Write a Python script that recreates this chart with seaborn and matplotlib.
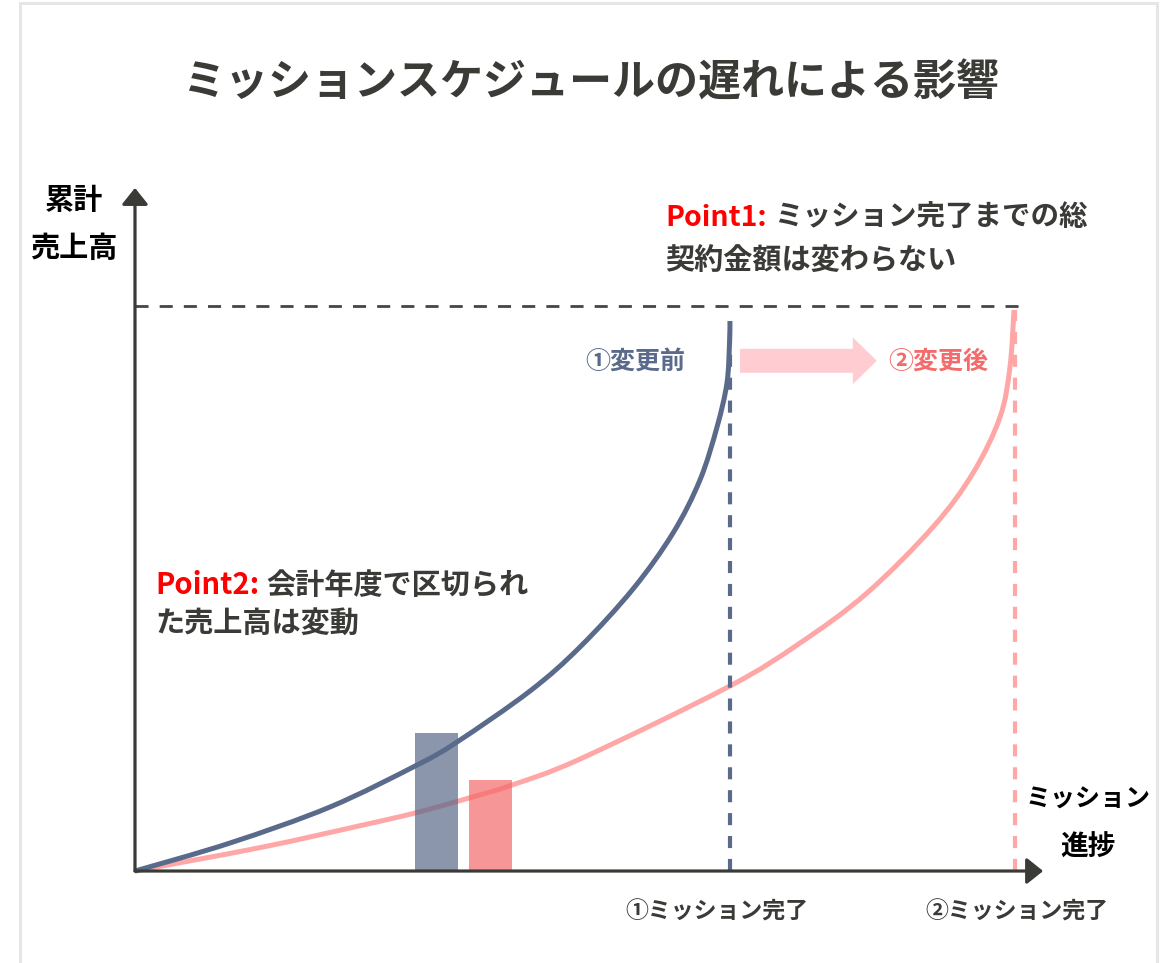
import numpy as np
import pandas as pd
import matplotlib
matplotlib.use("Agg")
import matplotlib.pyplot as plt
import seaborn as sns
from matplotlib.patches import FancyArrow, Rectangle, PathPatch
from matplotlib.path import Path

# ---------------- data ----------------
title = "ミッションスケジュールの遅れによる影響"
y_label = ["累計", "売上高"]
x_label = ["ミッション", "進捗"]

# cumulative sales (% of total contract) vs mission progress (%)
blue_progress = [0, 10.80, 22.16, 32.05, 36.59, 44.89, 50.57, 56.59, 61.14, 64.20,
                 66.14, 67.27, 67.56, 67.61]
blue_sales = [0, 4.96, 11.33, 18.76, 22.83, 31.86, 39.65, 49.91, 59.82, 69.20,
              78.58, 86.37, 93.45, 97.35]
pink_progress = [0, 14.55, 25.91, 31.82, 37.95, 42.84, 50.57, 67.39, 75.57, 83.18,
                 90.68, 95.23, 98.30, 99.43, 99.89]
pink_sales = [0, 4.25, 8.14, 10.27, 12.92, 15.22, 19.82, 32.57, 40.35, 49.20,
              60.88, 70.44, 80.35, 89.20, 99.29]

total_contract = 100
bar_positions = [34.3, 40.4]          # fiscal-year slice of sales
bar_heights = [24.4, 16.1]
bar_names = ["変更前", "変更後"]

label_before = "①変更前"
label_after = "②変更後"
done_before = "①ミッション完了"
done_after = "②ミッション完了"
point1 = ["Point1:", "ミッション完了までの総", "契約金額は変わらない"]
point2 = ["Point2:", "会計年度で区切られ", "た売上高は変動"]

# ---------------- styling ----------------
sns.set_theme(style="white")
plt.rcParams["font.family"] = ["Noto Sans CJK JP", "DejaVu Sans"]

NAVY = "#5a6a8a"
PINK = "#ffa6a6"
PINK_DARK = "#f56a6a"
TXT = "#3a3a37"
AXC = "#3a3a36"

fig = plt.figure(figsize=(11.71, 9.63), dpi=100)
ax = fig.add_axes([0, 0, 1, 1])

# frame
fig.patches.append(Rectangle((20 / 1171, -0.02), (1157 - 20) / 1171, 1.02 - 3 / 963,
                             transform=fig.transFigure, fill=False,
                             edgecolor="#e6e6e6", linewidth=2.2, zorder=0))


def smooth_path(xs, ys):
    """Smooth (Catmull-Rom style) rendering path through the read points."""
    P = np.column_stack([xs, ys]).astype(float)
    n = len(P)
    verts = [P[0]]
    codes = [Path.MOVETO]
    for i in range(n - 1):
        p0 = P[i - 1] if i > 0 else P[i]
        p1, p2 = P[i], P[i + 1]
        p3 = P[i + 2] if i + 2 < n else P[i + 1]
        verts += [p1 + (p2 - p0) / 6, p2 - (p3 - p1) / 6, p2]
        codes += [Path.CURVE4] * 3
    return Path(verts, codes)


# bars (fiscal-year sales) via seaborn, on a native numeric scale
sns.barplot(x=bar_positions, y=bar_heights, hue=bar_names,
            palette=[NAVY, PINK_DARK], native_scale=True, width=4.9 / 6.1,
            dodge=False, saturation=1, alpha=0.7, legend=False, ax=ax,
            linewidth=0, zorder=5)

# cumulative sales curves
ax.add_patch(PathPatch(smooth_path(pink_progress, pink_sales), fill=False,
                       edgecolor=PINK, lw=3.6, zorder=3))
ax.add_patch(PathPatch(smooth_path(blue_progress, blue_sales), fill=False,
                       edgecolor=NAVY, lw=3.6, zorder=4))

# vertical dashed completion lines
ax.plot([blue_progress[-1]] * 2, [0, blue_sales[-1]], color=NAVY, lw=3,
        dashes=(2.9, 2.6), zorder=3)
ax.plot([pink_progress[-1] + 0.1] * 2, [0, pink_sales[-1]], color=PINK, lw=3,
        dashes=(2.9, 2.6), zorder=2)

# total contract dashed line
ax.plot([0, pink_progress[-1] + 0.6], [total_contract] * 2, color="#454545", lw=2,
        dashes=(4.7, 4.0), zorder=2)

# axes with arrows
arrow_kw = dict(arrowstyle="-|>,head_length=0.5,head_width=0.4", lw=2.3, color=AXC,
                shrinkA=0, shrinkB=0, mutation_scale=20)
ax.annotate("", xy=(103.2, 0), xytext=(0, 0), arrowprops=arrow_kw, zorder=6)
ax.annotate("", xy=(0, 120.9), xytext=(0, 0), arrowprops=arrow_kw, zorder=6)

# block arrow
ax.add_patch(FancyArrow(68.75, 90.3, 84.3 - 68.75, 0, width=4.25, head_width=8.3,
                        head_length=2.73, length_includes_head=True,
                        color="#ffccd1", lw=0, zorder=3))

ax.set_xlim(-15.34, 117.73)
ax.set_ylim(-16.28, 154.16)
ax.axis("off")

T = ax.transAxes
ax.text(0.504, 0.914, title, transform=T, ha="center", va="center",
        fontsize=31, fontweight="bold", color=TXT)
ax.text(0.0632, 0.7923, y_label[0], transform=T, ha="center", va="center",
        fontsize=21, fontweight="bold", color="black")
ax.text(0.0632, 0.7425, y_label[1], transform=T, ha="center", va="center",
        fontsize=21, fontweight="bold", color="black")
ax.text(0.929, 0.1693, x_label[0], transform=T, ha="center", va="center",
        fontsize=18, fontweight="bold", color="black")
ax.text(0.929, 0.1194, x_label[1], transform=T, ha="center", va="center",
        fontsize=20, fontweight="bold", color="black")
ax.text(0.612, 0.053, done_before, transform=T, ha="center", va="center",
        fontsize=16.5, fontweight="bold", color=TXT)
ax.text(0.868, 0.053, done_after, transform=T, ha="center", va="center",
        fontsize=16.5, fontweight="bold", color=TXT)

ax.text(56.8, 90.1, label_before, ha="center", va="center", fontsize=18,
        fontweight="bold", color=NAVY)
ax.text(91.25, 90.1, label_after, ha="center", va="center", fontsize=18,
        fontweight="bold", color="#f46b6b")


def two_color_line(x, y, red, rest, size):
    t1 = ax.text(x, y, red, transform=T, ha="left", va="center", fontsize=size,
                 fontweight="bold", color="#ff0000")
    ax.annotate(rest, xy=(1, 0.5), xycoords=t1, xytext=(5, 0),
                textcoords="offset points", ha="left", va="center", fontsize=size,
                fontweight="bold", color=TXT)


two_color_line(0.568, 0.7736, point1[0], point1[1], 20.5)
ax.text(0.568, 0.729, point1[2], transform=T, ha="left", va="center", fontsize=21,
        fontweight="bold", color=TXT)
two_color_line(0.1324, 0.3925, point2[0], point2[1], 21)
ax.text(0.1324, 0.353, point2[2], transform=T, ha="left", va="center", fontsize=21,
        fontweight="bold", color=TXT)

fig.savefig("out.png", dpi=100)
